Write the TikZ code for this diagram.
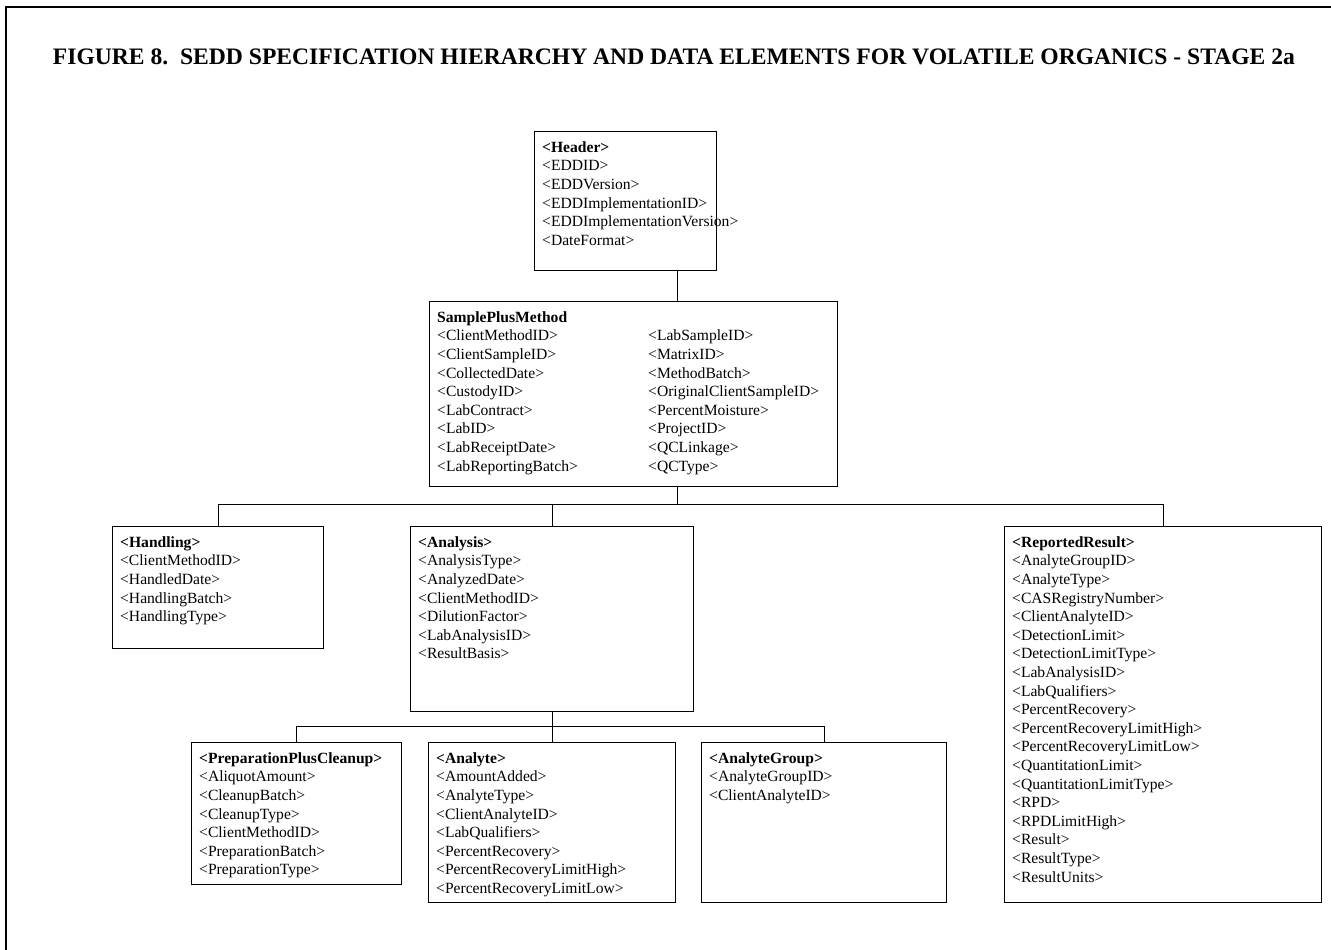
\documentclass[tikz,border=0pt]{standalone}
\usepackage{fontspec}
\setmainfont{Liberation Serif}
\usetikzlibrary{calc}
\begin{document}
\begin{tikzpicture}[x=1pt,y=-1pt,
  box/.style={draw=black, line width=1.1pt, anchor=north west, inner sep=0pt},
  txt/.style={anchor=north west, inner sep=0pt, align=left, font=\fontsize{15.6}{18.6}\selectfont},
  link/.style={draw=black, line width=1pt},
  frame/.style={draw=black, line width=1.4pt}]
\useasboundingbox (0,0) rectangle (1331,950);
\draw[frame] (1331,7) -- (6,7) -- (6,950);

% title
\node[inner sep=0pt, anchor=base] (title) at (674,65)
  {\resizebox{1242pt}{!}{\bfseries FIGURE 8.\ \ SEDD SPECIFICATION HIERARCHY AND DATA ELEMENTS FOR VOLATILE ORGANICS - STAGE 2a}};

% boxes
\node[box, minimum width=182pt, minimum height=139pt] (header) at (534,131) {};
\node[box, minimum width=408pt, minimum height=185pt] (spm) at (429,301) {};
\node[box, minimum width=211pt, minimum height=122pt] (handling) at (112,526) {};
\node[box, minimum width=283pt, minimum height=185pt] (analysis) at (410,526) {};
\node[box, minimum width=317pt, minimum height=376pt] (rr) at (1004,526) {};
\node[box, minimum width=210pt, minimum height=142pt] (prep) at (191,742) {};
\node[box, minimum width=247pt, minimum height=160pt] (analyte) at (428,742) {};
\node[box, minimum width=245pt, minimum height=160pt] (ag) at (701,742) {};

% texts
\node[txt] (header-t) at ($(header.north west)+(8,8)$) {\strut\textbf{<Header>}\\
<EDDID>\\ <EDDVersion>\\ <EDDImplementationID>\\ <EDDImplementationVersion>\\ <DateFormat>};

\node[txt] (spm-l) at ($(spm.north west)+(8,8)$) {\strut\textbf{SamplePlusMethod}\\
<ClientMethodID>\\ <ClientSampleID>\\ <CollectedDate>\\ <CustodyID>\\ <LabContract>\\ <LabID>\\ <LabReceiptDate>\\ <LabReportingBatch>};
\node[txt] (spm-r) at ($(spm.north west)+(219,26.6)$) {\strut<LabSampleID>\\
<MatrixID>\\ <MethodBatch>\\ <OriginalClientSampleID>\\ <PercentMoisture>\\ <ProjectID>\\ <QCLinkage>\\ <QCType>};

\node[txt] (handling-t) at ($(handling.north west)+(8,8)$) {\strut\textbf{<Handling>}\\
<ClientMethodID>\\ <HandledDate>\\ <HandlingBatch>\\ <HandlingType>};

\node[txt] (analysis-t) at ($(analysis.north west)+(8,8)$) {\strut\textbf{<Analysis>}\\
<AnalysisType>\\ <AnalyzedDate>\\ <ClientMethodID>\\ <DilutionFactor>\\ <LabAnalysisID>\\ <ResultBasis>};

\node[txt] (rr-t) at ($(rr.north west)+(8,8)$) {\strut\textbf{<ReportedResult>}\\
<AnalyteGroupID>\\ <AnalyteType>\\ <CASRegistryNumber>\\ <ClientAnalyteID>\\ <DetectionLimit>\\ <DetectionLimitType>\\ <LabAnalysisID>\\ <LabQualifiers>\\ <PercentRecovery>\\ <PercentRecoveryLimitHigh>\\ <PercentRecoveryLimitLow>\\ <QuantitationLimit>\\ <QuantitationLimitType>\\ <RPD>\\ <RPDLimitHigh>\\ <Result>\\ <ResultType>\\ <ResultUnits>};

\node[txt] (prep-t) at ($(prep.north west)+(8,8)$) {\strut\textbf{<PreparationPlusCleanup>}\\
<AliquotAmount>\\ <CleanupBatch>\\ <CleanupType>\\ <ClientMethodID>\\ <PreparationBatch>\\ <PreparationType>};

\node[txt] (analyte-t) at ($(analyte.north west)+(8,8)$) {\strut\textbf{<Analyte>}\\
<AmountAdded>\\ <AnalyteType>\\ <ClientAnalyteID>\\ <LabQualifiers>\\ <PercentRecovery>\\ <PercentRecoveryLimitHigh>\\ <PercentRecoveryLimitLow>};

\node[txt] (ag-t) at ($(ag.north west)+(8,8)$) {\strut\textbf{<AnalyteGroup>}\\
<AnalyteGroupID>\\ <ClientAnalyteID>};

% connectors
\coordinate (stem) at (677,0);
\coordinate (bus1) at (0,504);
\coordinate (bus2) at (0,726);
\draw[link] (header.south -| stem) -- (spm.north -| stem);
\draw[link] (spm.south -| stem) -- (stem |- bus1);
\draw[link] (handling.north) -- (handling.north |- bus1) -- (rr.north |- bus1) -- (rr.north);
\draw[link] (analysis.north |- bus1) -- (analysis.north);
\draw[link] (analysis.south) -- (analyte.north);
\draw[link] (prep.north) -- (prep.north |- bus2) -- (ag.north |- bus2) -- (ag.north);
\end{tikzpicture}
\end{document}
